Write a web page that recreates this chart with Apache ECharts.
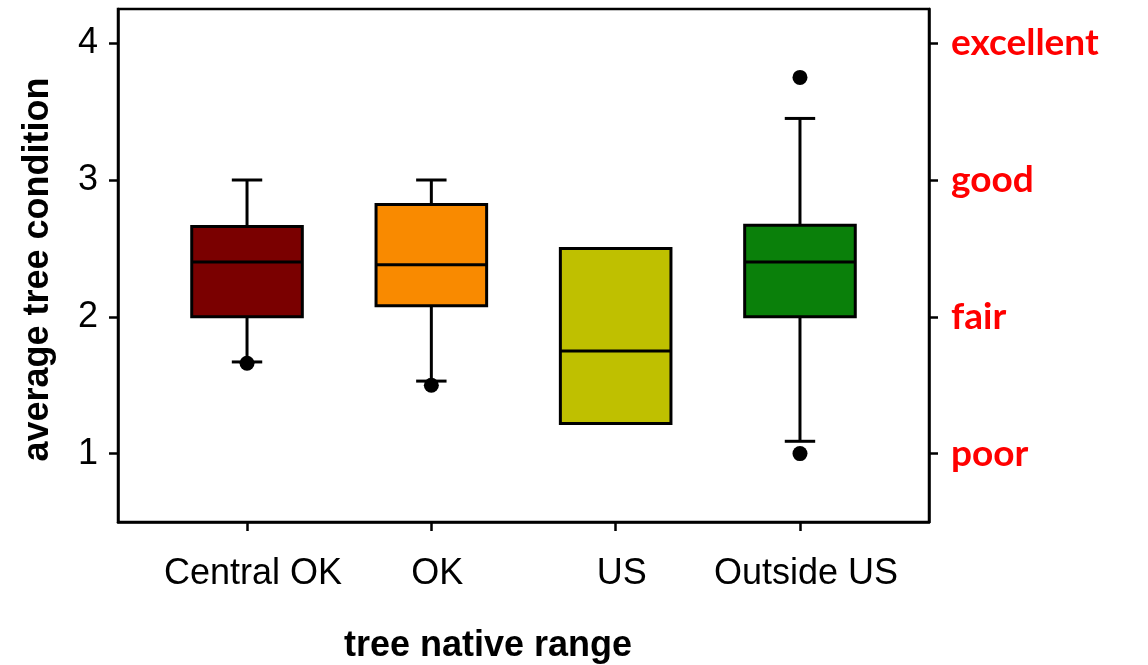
<!DOCTYPE html>
<html><head><meta charset="utf-8">
<script src="https://cdn.jsdelivr.net/npm/echarts@6/dist/echarts.min.js"></script>
<style>html,body{margin:0;padding:0;background:#fff}#c{width:1148px;height:665px}</style>
</head><body><div id="c"></div>
<script>
const categories = ['Central OK', 'OK', 'US', 'Outside US'];
const positions = [1, 2, 3, 4];
const whiskerLow = [1.67, 1.53, 1.22, 1.09];
const q1 = [2.00, 2.08, 1.22, 2.00];
const median = [2.40, 2.38, 1.75, 2.40];
const q3 = [2.66, 2.82, 2.50, 2.67];
const whiskerHigh = [3.00, 3.00, 2.50, 3.45];
const outliers = [[1, 1.66], [2, 1.50], [4, 3.75], [4, 1.00]];
const yTicks = [1, 2, 3, 4];
const conditionLabels = ['poor', 'fair', 'good', 'excellent'];
const boxColors = ['#7a0000', '#f98a00', '#bfc000', '#0a800a'];

const BOX_W = 0.6, CAP_W = 0.165;
const FONT = '"Liberation Sans", Arial, sans-serif';

function renderItem(params, api) {
  const x = api.value(0);
  const lo = api.coord([x, api.value(1)]);
  const b1 = api.coord([x, api.value(2)]);
  const md = api.coord([x, api.value(3)]);
  const b3 = api.coord([x, api.value(4)]);
  const hi = api.coord([x, api.value(5)]);
  const hb = api.size([BOX_W, 0])[0] / 2;
  const hc = api.size([CAP_W, 0])[0] / 2;
  const cx = lo[0];
  const ls = { stroke: '#000', lineWidth: 3 };
  const ch = [];
  if (hi[1] < b3[1] - 0.5) {
    ch.push({ type: 'line', shape: { x1: cx, y1: b3[1], x2: cx, y2: hi[1] }, style: ls });
    ch.push({ type: 'line', shape: { x1: cx - hc, y1: hi[1], x2: cx + hc, y2: hi[1] }, style: ls });
  }
  if (lo[1] > b1[1] + 0.5) {
    ch.push({ type: 'line', shape: { x1: cx, y1: b1[1], x2: cx, y2: lo[1] }, style: ls });
    ch.push({ type: 'line', shape: { x1: cx - hc, y1: lo[1], x2: cx + hc, y2: lo[1] }, style: ls });
  }
  ch.push({ type: 'rect', shape: { x: cx - hb, y: b3[1], width: 2 * hb, height: b1[1] - b3[1] },
    style: { fill: boxColors[params.dataIndex], stroke: '#000', lineWidth: 3 } });
  ch.push({ type: 'line', shape: { x1: cx - hb, y1: md[1], x2: cx + hb, y2: md[1] }, style: ls });
  return { type: 'group', children: ch };
}

const boxData = positions.map((p, i) => [p, whiskerLow[i], q1[i], median[i], q3[i], whiskerHigh[i]]);

const axisLineStyle = { color: '#000', width: 2.5 };
const chart = echarts.init(document.getElementById('c'));
chart.setOption({
  animation: false,
  backgroundColor: '#fff',
  grid: { left: 118, right: 219, top: 9, bottom: 143, show: true, borderColor: '#000', borderWidth: 2.5, containLabel: false, outerBoundsMode: 'none' },
  xAxis: {
    type: 'value', min: 0.3, max: 4.7,
    axisLine: { show: true, lineStyle: axisLineStyle },
    axisTick: { show: true, customValues: positions, length: 9, lineStyle: axisLineStyle },
    axisLabel: { customValues: positions, formatter: v => categories[positions.indexOf(v)],
      fontSize: 36, color: '#000', fontFamily: FONT, margin: 34, padding: [0, 0, 0, 12] },
    splitLine: { show: false },
    name: 'tree native range', nameLocation: 'middle', nameGap: 106,
    nameTextStyle: { fontSize: 36, fontWeight: 'bold', color: '#000', fontFamily: FONT, padding: [0, 71, 0, 0] }
  },
  yAxis: [{
    type: 'value', min: 0.5, max: 4.25, position: 'left',
    axisLine: { show: true, lineStyle: axisLineStyle },
    axisTick: { show: true, customValues: yTicks, length: 9, lineStyle: axisLineStyle },
    axisLabel: { customValues: yTicks, fontSize: 36, color: '#000', fontFamily: FONT, margin: 20 },
    splitLine: { show: false },
    name: 'average tree condition', nameLocation: 'middle', nameGap: 62,
    nameTextStyle: { fontSize: 36, fontWeight: 'bold', color: '#000', fontFamily: FONT, padding: [0, 8, 0, 0] }
  }, {
    type: 'value', min: 0.5, max: 4.25, position: 'right',
    axisLine: { show: true, lineStyle: axisLineStyle },
    axisTick: { show: true, customValues: yTicks, length: 9, lineStyle: axisLineStyle },
    axisLabel: { customValues: yTicks, formatter: v => conditionLabels[yTicks.indexOf(v)],
      fontSize: 37, color: '#ff0000', fontWeight: 'bold', fontFamily: 'Lato, "Open Sans", sans-serif', margin: 22 },
    splitLine: { show: false }
  }],
  series: [{
    type: 'custom', renderItem: renderItem, data: boxData,
    encode: { x: 0, y: [1, 2, 3, 4, 5] }, clip: false, z: 2
  }, {
    type: 'scatter', data: outliers, symbol: 'circle', symbolSize: 15,
    itemStyle: { color: '#000', opacity: 1 }, z: 3
  }]
});
</script></body></html>
